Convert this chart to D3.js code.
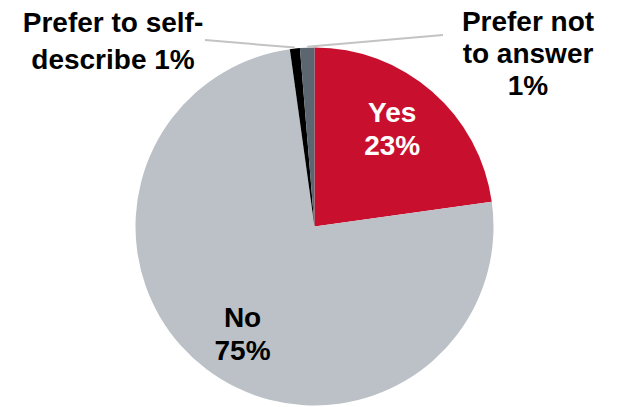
<!DOCTYPE html>
<html>
<head>
<meta charset="utf-8">
<script src="https://cdn.jsdelivr.net/npm/d3@7"></script>
<style>
  html, body { margin: 0; padding: 0; background: #fff; }
  svg { display: block; }
</style>
</head>
<body>
<svg id="chart" width="617" height="407"></svg>
<script>
// ---- data ----
const categories = ["Yes", "No", "Prefer to self-describe", "Prefer not to answer"];
const values = [22.8, 75.0, 0.9, 1.3];
const labelLines = [
  ["Yes", "23%"],
  ["No", "75%"],
  ["Prefer to self-", "describe 1%"],
  ["Prefer not", "to answer", "1%"]
];
const colors = ["#C8102E", "#BBC1C6", "#000000", "#5B6670"];

// ---- layout ----
const W = 617, H = 407;
const cx = 314.5, cy = 226.5, R = 179;
const fontSize = 28;

const svg = d3.select("#chart");
const g = svg.append("g").attr("transform", `translate(${cx},${cy})`);

const pie = d3.pie().sort(null).value(d => d.value);
const data = categories.map((c, i) => ({ cat: c, value: values[i], lines: labelLines[i], color: colors[i] }));
const arcs = pie(data);

const arc = d3.arc().innerRadius(0).outerRadius(R);

g.selectAll("path.slice")
  .data(arcs)
  .join("path")
  .attr("class", "slice")
  .attr("d", arc)
  .attr("fill", d => d.data.color);

// inside labels (Yes, No)
const insideArc = d3.arc().innerRadius(126).outerRadius(126);
const insideCfg = [
  { idx: 0, fill: "#ffffff", dx: -5, dy: -3 },
  { idx: 1, fill: "#000000", dx: 4, dy: 6 }
];
insideCfg.forEach(cfg => {
  const a = arcs[cfg.idx];
  const [x, y] = insideArc.centroid(a);
  const n = a.data.lines.length;
  const lh = 33;
  const t = g.append("text")
    .attr("text-anchor", "middle")
    .attr("font-family", "Liberation Sans, Arial, sans-serif")
    .attr("font-weight", "bold")
    .attr("font-size", fontSize)
    .attr("fill", cfg.fill);
  a.data.lines.forEach((line, i) => {
    t.append("tspan")
      .attr("x", x + cfg.dx)
      .attr("y", y + cfg.dy + (i - (n - 1) / 2) * lh + 10)
      .text(line);
  });
});

// outside labels with leader lines
const outsideCfg = [
  { idx: 2, x: 113, baselines: [32, 69], lineFrom: [205, 40] },
  { idx: 3, x: 528, baselines: [31, 63, 95], lineFrom: [443, 35] }
];
outsideCfg.forEach(cfg => {
  const a = arcs[cfg.idx];
  const mid = (a.startAngle + a.endAngle) / 2;
  const ex = cx + Math.sin(mid) * (R + 1);
  const ey = cy - Math.cos(mid) * (R + 1);
  svg.append("line")
    .attr("x1", cfg.lineFrom[0]).attr("y1", cfg.lineFrom[1])
    .attr("x2", ex).attr("y2", ey)
    .attr("stroke", "#C3C3C3")
    .attr("stroke-width", 2);
  const t = svg.append("text")
    .attr("text-anchor", "middle")
    .attr("font-family", "Liberation Sans, Arial, sans-serif")
    .attr("font-weight", "bold")
    .attr("font-size", fontSize)
    .attr("fill", "#000");
  a.data.lines.forEach((line, i) => {
    t.append("tspan").attr("x", cfg.x).attr("y", cfg.baselines[i]).text(line);
  });
});
</script>
</body>
</html>
